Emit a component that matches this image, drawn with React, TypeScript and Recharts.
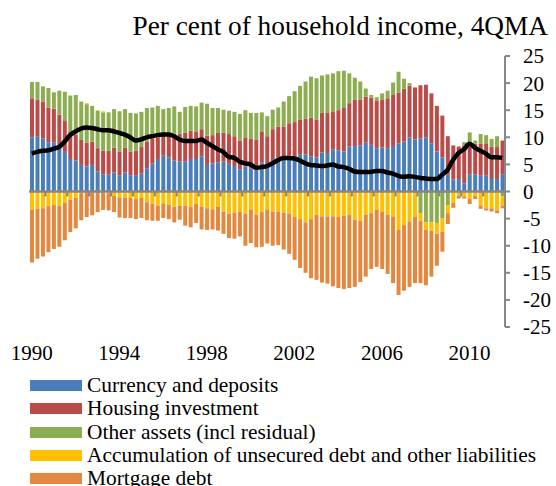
import React from "react";
import { ComposedChart, Bar, Line, XAxis, YAxis, ReferenceLine } from "recharts";

// quarterly, 1990 Q1 .. 2011 Q3
const quarters: string[] = [];
for (let y = 1990; y <= 2011; y++) {
  for (let q = 1; q <= 4; q++) quarters.push(`${y} Q${q}`);
}
const categories = quarters.slice(0, 87);

const currency = [
  10.0, 10.1, 9.8, 9.1, 9.0, 8.0, 7.3, 6.0, 5.7, 4.9,
  4.6, 4.9, 3.7, 3.2, 3.1, 3.5, 2.9, 3.5, 3.0, 2.9,
  3.3, 4.3, 5.2, 6.0, 6.6, 6.3, 5.7, 5.5, 5.5, 6.0,
  6.0, 6.5, 4.9, 5.2, 5.4, 5.5, 5.1, 4.7, 4.1, 4.6,
  4.3, 4.1, 5.4, 4.7, 6.0, 6.3, 6.5, 6.6, 6.5, 6.9,
  6.8, 6.5, 6.3, 7.2, 7.1, 7.8, 7.6, 7.4, 8.3, 8.4,
  8.5, 9.0, 8.6, 8.0, 8.1, 8.0, 8.4, 8.9, 9.2, 10.0,
  9.6, 9.8, 10.0, 8.9, 7.4, 6.3, 3.1, 2.2, 2.3, 1.5,
  3.2, 3.1, 2.9, 3.0, 2.3, 2.3, 3.2,
];

const housing = [
  7.2, 6.8, 6.8, 6.4, 6.3, 6.2, 5.7, 5.1, 4.8, 4.6,
  4.4, 4.3, 4.3, 4.3, 4.4, 4.6, 4.5, 4.6, 4.4, 4.6,
  4.9, 4.9, 4.6, 4.0, 4.4, 4.2, 5.0, 5.1, 5.4, 5.2,
  5.1, 5.0, 5.4, 5.2, 5.4, 5.4, 5.5, 5.5, 5.3, 5.4,
  5.4, 5.4, 5.7, 5.5, 5.5, 5.7, 5.5, 6.0, 6.3, 6.3,
  6.6, 7.1, 6.9, 7.3, 7.4, 7.0, 7.4, 8.0, 8.0, 8.5,
  8.5, 8.5, 8.7, 8.8, 8.9, 9.2, 9.4, 9.3, 9.8, 9.5,
  9.6, 9.8, 9.7, 9.2, 8.4, 7.7, 7.1, 6.3, 6.0, 7.0,
  5.4, 5.7, 5.9, 5.9, 6.0, 5.9, 6.2,
];

const otherAssets = [
  3.0, 3.3, 2.8, 3.6, 3.0, 4.4, 5.4, 6.6, 7.3, 7.1,
  7.1, 6.6, 6.9, 7.1, 7.1, 7.1, 7.4, 7.1, 7.1, 6.9,
  6.5, 6.2, 5.7, 5.8, 4.2, 4.9, 5.0, 4.1, 4.7, 4.6,
  4.6, 4.9, 5.9, 5.0, 4.6, 4.2, 4.3, 4.5, 4.9, 5.0,
  4.8, 5.0, 3.5, 3.7, 3.6, 3.5, 4.6, 5.0, 5.7, 6.3,
  6.9, 7.6, 7.7, 6.9, 7.1, 7.0, 7.2, 6.9, 5.5, 4.1,
  3.3, 1.5, 0.5, 0.6, 1.1, 1.4, 2.3, 3.9, 1.8, 0.5,
  -0.3, -4.0, -5.7, -5.7, -5.8, -4.9, -2.5, 0.0, 0.0, 0.6,
  2.3, 0.6, 1.8, 1.5, 1.4, 2.0, -0.9,
];

const unsecured = [
  -3.4, -3.2, -3.1, -2.7, -2.5, -2.7, -2.1, -1.5, -1.2, -0.3,
  0.2, -0.2, 0.1, 0.2, -0.3, -0.8, -1.1, -1.1, -1.2, -1.4,
  -1.2, -2.0, -2.3, -2.6, -2.2, -2.5, -2.8, -2.6, -2.6, -2.8,
  -2.3, -2.8, -3.1, -3.3, -2.8, -3.7, -4.1, -3.9, -3.7, -4.1,
  -3.3, -4.3, -3.8, -3.3, -3.7, -3.7, -3.9, -4.1, -4.7, -5.1,
  -5.7, -5.1, -4.3, -4.6, -4.6, -4.6, -4.7, -4.5, -4.3, -5.2,
  -5.4, -4.3, -4.0, -3.4, -3.7, -4.3, -4.6, -7.1, -6.2, -5.5,
  -4.3, -1.4, -1.4, -1.5, -2.0, -2.5, -1.5, -2.1, -0.8, -0.9,
  -1.4, -0.8, -2.6, -3.1, -3.1, -3.5, -1.7,
];

const mortgage = [
  -9.7, -9.2, -8.9, -8.5, -8.1, -7.5, -6.9, -6.0, -5.6, -5.0,
  -4.7, -4.2, -3.8, -3.4, -3.2, -3.0, -3.7, -3.8, -3.7, -3.7,
  -3.7, -3.3, -3.1, -2.8, -2.7, -2.6, -2.9, -2.6, -3.7, -3.8,
  -3.5, -4.2, -4.0, -3.7, -4.4, -4.1, -4.5, -4.8, -4.6, -5.9,
  -6.2, -6.0, -6.4, -6.3, -6.3, -6.2, -6.8, -7.4, -7.9, -9.0,
  -9.3, -10.9, -12.0, -12.2, -12.4, -12.9, -13.1, -13.5, -13.5, -12.4,
  -11.3, -11.4, -10.3, -10.5, -10.6, -10.9, -12.3, -12.0, -12.1, -12.1,
  -12.3, -11.5, -10.2, -8.5, -5.9, -3.7, -2.0, -0.9, -0.5, -0.4,
  -0.9, -0.6, -0.6, -0.4, -0.6, -0.5, -0.5,
];

// black line, 4QMA
const savingRatio = [
  7.0, 7.3, 7.5, 7.6, 7.9, 8.2, 9.2, 10.4, 11.1, 11.6,
  11.8, 11.7, 11.5, 11.3, 11.3, 11.1, 10.8, 10.5, 10.0, 9.4,
  9.6, 10.0, 10.2, 10.4, 10.5, 10.5, 10.2, 9.6, 9.3, 9.3,
  9.3, 9.6, 9.0, 8.4, 7.8, 7.3, 6.4, 6.2, 5.5, 5.2,
  5.0, 4.4, 4.5, 4.7, 5.2, 5.8, 6.2, 6.2, 6.1, 5.7,
  5.2, 4.9, 4.8, 4.7, 4.8, 5.0, 4.6, 4.5, 4.2, 3.7,
  3.6, 3.6, 3.6, 3.8, 3.8, 3.5, 3.3, 2.9, 2.7, 2.8,
  2.7, 2.5, 2.4, 2.3, 2.3, 3.1, 4.0, 5.8, 7.1, 7.8,
  8.8, 8.1, 7.5, 7.0, 6.3, 6.3, 6.2,
];

const yearTicks = ["1990", "1994", "1998", "2002", "2006", "2010"];
const valueTicks = [25, 20, 15, 10, 5, 0, -5, -10, -15, -20, -25];

const data = categories.map((q, i) => ({
  q,
  currency: currency[i],
  housing: housing[i],
  other: otherAssets[i],
  unsecured: unsecured[i],
  mortgage: mortgage[i],
  saving: savingRatio[i],
}));

const legendItems = [
  { label: "Currency and deposits", color: "#4a7ebb" },
  { label: "Housing investment", color: "#b94c49" },
  { label: "Other assets (incl residual)", color: "#8cad50" },
  { label: "Accumulation of unsecured debt and other liabilities", color: "#ffc000" },
  { label: "Mortgage debt", color: "#e3883e" },
];

const FONT = "'Liberation Serif', 'Times New Roman', serif";
const AXIS = "#878787";

// zero line with small tick marks every 4 quarters
const ZeroAxis = (props: any) => {
  const { x1, x2, y1 } = props;
  const step = ((x2 - x1) / categories.length) * 4;
  const marks = [];
  for (let k = 0; k * 4 <= categories.length; k++) {
    const x = x1 + k * step;
    marks.push(<line key={k} x1={x} x2={x} y1={y1} y2={y1 + 5} stroke={AXIS} strokeWidth={2} />);
  }
  return (
    <g>
      <line x1={x1} x2={x2} y1={y1} y2={y1} stroke={AXIS} strokeWidth={2.5} />
      {marks}
    </g>
  );
};

export default function App() {
  return (
    <div style={{ position: "absolute", left: 0, top: 0, width: 556, height: 486, fontFamily: FONT, background: "#fff", overflow: "hidden" }}>
      <div style={{ position: "absolute", right: 8, top: 11, fontSize: 27.3, color: "#000", whiteSpace: "nowrap" }}>
        Per cent of household income, 4QMA
      </div>
      <ComposedChart
        width={556}
        height={370}
        data={data}
        stackOffset="sign"
        margin={{ top: 56, right: 0, bottom: 0, left: 29 }}
        barCategoryGap={1}
      >
        <XAxis
          dataKey="q"
          ticks={yearTicks.map((y) => `${y} Q1`)}
          interval={0}
          tickFormatter={(v: string) => v.slice(0, 4)}
          axisLine={false}
          tickLine={false}
          tickSize={0}
          tickMargin={18}
          height={43}
          tick={{ fontSize: 21, fill: "#000", fontFamily: FONT }}
        />
        <YAxis
          orientation="right"
          domain={[-25, 25]}
          ticks={valueTicks}
          interval={0}
          width={51}
          axisLine={{ stroke: AXIS, strokeWidth: 2 }}
          tickLine={{ stroke: AXIS, strokeWidth: 2 }}
          tickSize={5}
          tickMargin={13}
          tick={{ fontSize: 21, fill: "#000", fontFamily: FONT, textAnchor: "start" }}
        />
        <Bar dataKey="currency" stackId="a" fill="#4a7ebb" barSize={4} isAnimationActive={false} />
        <Bar dataKey="housing" stackId="a" fill="#b94c49" barSize={4} isAnimationActive={false} />
        <Bar dataKey="other" stackId="a" fill="#8cad50" barSize={4} isAnimationActive={false} />
        <Bar dataKey="unsecured" stackId="a" fill="#ffc000" barSize={4} isAnimationActive={false} />
        <Bar dataKey="mortgage" stackId="a" fill="#e3883e" barSize={4} isAnimationActive={false} />
        <ReferenceLine y={0} shape={ZeroAxis} />
        <Line
          dataKey="saving"
          type="monotone"
          stroke="#000"
          strokeWidth={4.5}
          dot={false}
          isAnimationActive={false}
        />
      </ComposedChart>
      <div style={{ position: "absolute", left: 30, top: 374 }}>
        {legendItems.map((it) => (
          <div key={it.label} style={{ display: "flex", alignItems: "center", height: 23.3, fontSize: 21.4, whiteSpace: "nowrap" }}>
            <span style={{ display: "inline-block", width: 52, height: 11, background: it.color, marginRight: 5 }} />
            <span>{it.label}</span>
          </div>
        ))}
      </div>
    </div>
  );
}
